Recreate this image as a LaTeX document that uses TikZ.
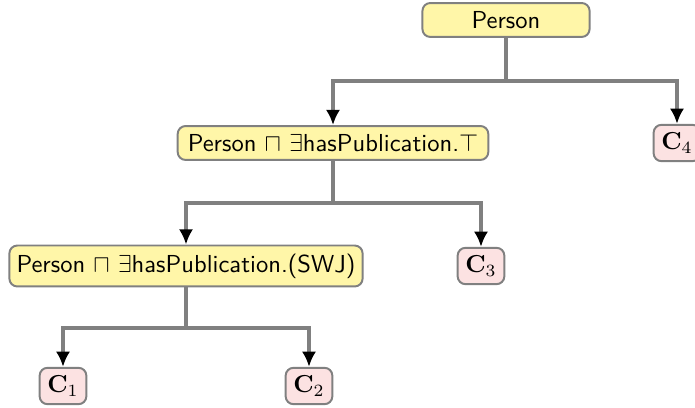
\documentclass[tikz,border=0pt]{standalone}
\usepackage{amsmath}
\usepackage{amssymb}
\usetikzlibrary{arrows.meta}

\definecolor{conceptfill}{RGB}{255,246,168}
\definecolor{leaffill}{RGB}{252,226,226}
\definecolor{linegray}{RGB}{128,128,128}

\tikzset{
  concept/.style={draw=linegray, line width=0.8pt, fill=conceptfill, rounded corners=3.2pt,
    font=\sffamily, minimum height=13.8pt, inner xsep=4.1pt},
  leaf/.style={draw=linegray, line width=0.8pt, fill=leaffill, rounded corners=3.2pt,
    minimum height=14.8pt, minimum width=19pt, inner sep=2pt},
  branch/.style={draw=linegray, line width=1.4pt},
  arr/.style={branch, -{Latex[length=6.2pt,width=5.8pt,black]}}
}

\begin{document}
\begin{tikzpicture}[x=0.0143cm, y=-0.0143cm]
  \useasboundingbox (0,0) rectangle (695,408);

  % concepts
  \node[concept, minimum width=68pt] (person) at (506,20) {Person}; %
  \node[concept] (pub) at (333,143) {Person $\sqcap$ $\exists$hasPublication.$\top$}; %
  \node[concept, inner xsep=2.9pt] (swj) at (186,266) {Person $\sqcap$ $\exists$hasPublication.(SWJ)}; %

  % leaves
  \node[leaf] (c4) at (677,143) {$\mathbf{C}_4$}; %
  \node[leaf] (c3) at (481,266) {$\mathbf{C}_3$}; %
  \node[leaf] (c1) at (63,386)  {$\mathbf{C}_1$}; %
  \node[leaf] (c2) at (309,386) {$\mathbf{C}_2$}; %

  % junctions
  \coordinate (j1) at (506,81); %
  \coordinate (j2) at (333,203); %
  \coordinate (j3) at (186,328); %

  % edges
  \draw[branch] (person) -- (j1) ; %
  \draw[arr] (j1) -| (pub) ; %
  \draw[arr] (j1) -| (c4) ; %
  \draw[branch] (pub) -- (j2) ; %
  \draw[arr] (j2) -| (swj) ; %
  \draw[arr] (j2) -| (c3) ; %
  \draw[branch] (swj) -- (j3) ; %
  \draw[arr] (j3) -| (c1) ; %
  \draw[arr] (j3) -| (c2) ; %

\end{tikzpicture}
\end{document}
